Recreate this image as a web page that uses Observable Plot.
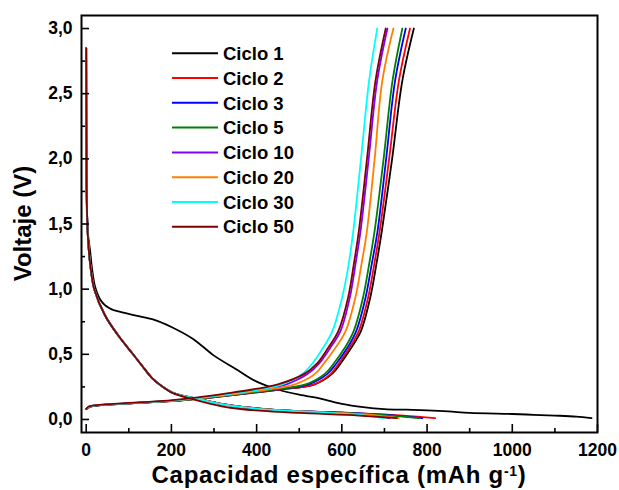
<!DOCTYPE html>
<html><head><meta charset="utf-8">
<script src="https://cdn.jsdelivr.net/npm/d3@7"></script>
<script src="https://cdn.jsdelivr.net/npm/@observablehq/plot@0.6"></script>
<style>
body{margin:0;background:#fff}
#chart{width:619px;height:490px}
</style>
</head><body><div id="chart"></div>
<script>
// ---- data ----
const cycles = ["Ciclo 1","Ciclo 2","Ciclo 3","Ciclo 5","Ciclo 10","Ciclo 20","Ciclo 30","Ciclo 50"];
const colors = ["#000000","#ff0000","#0000ff","#008000","#8000ff","#ff8000","#00ffff","#800000"];

// Cycle 1 discharge (capacity mAh/g, voltage V)
const c1DisCap = [0, 2, 5, 9, 14, 20, 27, 35, 45, 60, 80, 120, 160, 200, 250, 300, 350, 400, 450, 500, 550, 600, 650, 700, 750, 800, 850, 900, 1000, 1050, 1100, 1150, 1186];
const c1DisV   = [2.1, 1.55, 1.4, 1.3, 1.15, 1.03, 0.96, 0.91, 0.875, 0.845, 0.825, 0.795, 0.765, 0.71, 0.62, 0.49, 0.39, 0.29, 0.23, 0.19, 0.16, 0.12, 0.095, 0.08, 0.075, 0.07, 0.062, 0.05, 0.042, 0.036, 0.03, 0.022, 0.01];

// Discharge of cycles 2..50: capacity at shared voltage levels
const disV = [2.85, 2.2, 1.8, 1.55, 1.35, 1.15, 1.0, 0.8, 0.65, 0.5, 0.4, 0.32, 0.25, 0.2, 0.16, 0.12, 0.09, 0.07, 0.05, 0.03, 0.01];
const dis2  = [0, 0.5, 1.2, 2.3, 5, 11, 19, 44, 74, 110, 134, 154, 180, 207, 262, 318, 385, 464, 620, 745, 819];
const dis3  = [0, 0.5, 1.2, 2.3, 5, 11, 19, 44, 74, 110, 134, 154, 180, 207, 262, 318, 385, 464, 612, 725, 789];
const dis5  = [0, 0.5, 1.2, 2.3, 5, 11, 19, 44, 74, 110, 134, 154, 180, 207, 262, 318, 385, 464, 605, 715, 782];
const dis10 = [0, 0.5, 1.2, 2.3, 5, 11, 19, 44, 74, 110, 134, 154, 180, 207, 260, 315, 380, 458, 585, 672, 712];
const dis20 = [0, 0.5, 1.2, 2.3, 5, 11, 19, 44, 74, 110, 134, 154, 180, 207, 260, 315, 380, 458, 590, 685, 734];
const dis30 = [0, 0.5, 1.2, 2.3, 5, 11, 19, 44, 74, 110, 134, 154, 180, 207, 258, 312, 375, 450, 570, 655, 699];
const dis50 = [0, 0.5, 1.2, 2.3, 5, 11, 19, 44, 74, 110, 134, 154, 180, 205, 245, 292, 338, 398, 500, 640, 729];

// Charge of all cycles: capacity at shared voltage levels
const chaV = [0.08, 0.10, 0.12, 0.14, 0.17, 0.20, 0.23, 0.27, 0.35, 0.43, 0.55, 0.68, 0.94, 1.19, 1.45, 2.0, 2.6, 3.0];
const cha1  = [0, 12, 85, 200, 298, 378, 452, 536, 577, 597, 622, 645, 667, 681, 694, 718, 742, 769];
const cha2  = [0, 12, 85, 200, 298, 378, 452, 535, 574, 593, 618, 640, 662, 676, 689, 711, 734, 760];
const cha3  = [0, 10, 82, 195, 293, 372, 445, 522, 566, 587, 613, 634, 656, 670, 684, 704, 725, 750];
const cha5  = [0, 10, 82, 195, 292, 370, 440, 515, 560, 581, 607, 628, 650, 664, 677, 698, 719, 742];
const cha10 = [0, 8, 75, 185, 278, 350, 412, 470, 520, 547, 573, 597, 619, 632, 644, 663, 683, 707];
const cha20 = [0, 8, 78, 190, 285, 360, 425, 490, 537, 558, 585, 609, 632, 646, 659, 677, 695, 721];
const cha30 = [0, 8, 75, 185, 275, 345, 405, 460, 507, 531, 556, 578, 601, 616, 627, 645, 664, 683];
const cha50 = [0, 6, 65, 170, 262, 330, 390, 450, 512, 542, 568, 592, 615, 628, 640, 659, 679, 703];

const xTicks = [0, 200, 400, 600, 800, 1000, 1200];
const xMinor = [100, 300, 500, 700, 900, 1100];
const yTicks = [0, 0.5, 1.0, 1.5, 2.0, 2.5, 3.0];
const yMinor = [0.25, 0.75, 1.25, 1.75, 2.25, 2.75];

// ---- build rows ----
const disCaps = [null, dis2, dis3, dis5, dis10, dis20, dis30, dis50];
const chaCaps = [cha1, cha2, cha3, cha5, cha10, cha20, cha30, cha50];
const rows = [];
cycles.forEach((c, i) => {
  if (i === 0) {
    c1DisCap.forEach((x, j) => rows.push({key: c + " d", cycle: c, color: colors[i], x, y: c1DisV[j]}));
  } else {
    disCaps[i].forEach((x, j) => rows.push({key: c + " d", cycle: c, color: colors[i], x, y: disV[j]}));
  }
  chaCaps[i].forEach((x, j) => rows.push({key: c + " c", cycle: c, color: colors[i], x, y: chaV[j]}));
});

const FONT = "'Liberation Sans', Arial, sans-serif";
const commaFmt = d => d.toFixed(1).replace(".", ",");

const plot = Plot.plot({
  width: 619, height: 490,
  marginLeft: 81, marginRight: 22, marginTop: 15, marginBottom: 58,
  style: {fontFamily: FONT, fontSize: "17.5px", fontWeight: "bold", color: "#000", background: "#fff"},
  x: {domain: [-11, 1200]},
  y: {domain: [-0.1, 3.1]},
  color: {type: "identity"},
  marks: [
    Plot.line(rows, {x: "x", y: "y", z: "key", stroke: "color", strokeWidth: 1.8, curve: "catmull-rom"}),
    Plot.axisX(xTicks, {tickSize: -8, strokeWidth: 1.6, tickFormat: () => "", label: null}),
    Plot.axisX(xMinor, {tickSize: -4, strokeWidth: 1.6, tickFormat: () => "", label: null}),
    Plot.axisX(xTicks, {tickSize: 0, tickPadding: 11, tickFormat: d => String(d), label: null}),
    Plot.axisY(yTicks, {tickSize: -8, strokeWidth: 1.6, tickFormat: () => "", label: null}),
    Plot.axisY(yMinor, {tickSize: -4, strokeWidth: 1.6, tickFormat: () => "", label: null}),
    Plot.axisY(yTicks, {tickSize: 0, tickPadding: 9, tickFormat: commaFmt, label: null}),
    Plot.frame({stroke: "#000", strokeWidth: 2})
  ]
});
document.getElementById("chart").appendChild(plot);

// ---- axis titles & legend ----
const svg = d3.select(plot);
const xt = svg.append("text")
  .attr("x", 339).attr("y", 483)
  .attr("text-anchor", "middle")
  .style("font-family", FONT).style("font-size", "24px").style("font-weight", "bold")
  .style("letter-spacing", "0.7px").attr("fill", "#000");
xt.append("tspan").text("Capacidad específica (mAh g");
xt.append("tspan").attr("dy", -7).style("font-size", "14px").text("-1");
xt.append("tspan").attr("dy", 7).text(")");

svg.append("text")
  .attr("transform", "translate(31,223.5) rotate(-90)")
  .attr("text-anchor", "middle")
  .style("font-family", FONT).style("font-size", "24px").style("font-weight", "bold").attr("fill", "#000")
  .text("Voltaje (V)");

const lg = svg.append("g").attr("transform", "translate(172,53.3)");
cycles.forEach((c, i) => {
  const g = lg.append("g").attr("transform", `translate(0,${i * 24.77})`);
  g.append("line").attr("x1", 0).attr("x2", 46).attr("y1", 0).attr("y2", 0)
    .attr("stroke", colors[i]).attr("stroke-width", 2);
  g.append("text").attr("x", 51).attr("y", 0).attr("dy", "0.36em")
    .attr("text-anchor", "start")
    .style("font-family", FONT).style("font-size", "18.5px").style("font-weight", "bold").attr("fill", "#000")
    .text(c);
});
</script>
</body></html>
